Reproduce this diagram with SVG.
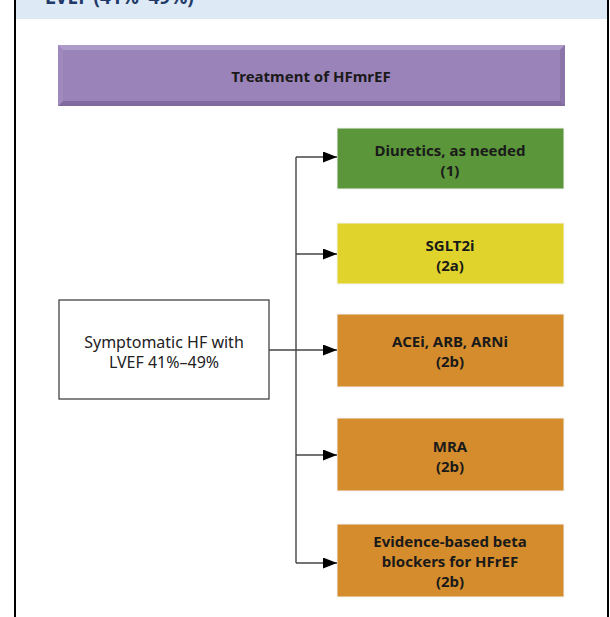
<svg xmlns="http://www.w3.org/2000/svg" width="610" height="617" viewBox="0 0 610 617">
<defs>
<style>
.lbl{font-family:"Noto Sans","Liberation Sans",sans-serif;font-size:15px;font-weight:bold;fill:#1a1a1a;text-anchor:middle}
.reg{font-family:"Noto Sans","Liberation Sans",sans-serif;font-size:16px;fill:#222;text-anchor:middle}
.conn{stroke:#444;stroke-width:1.4;fill:none}
.box{stroke:#f3f3f3;stroke-width:1}
</style>
<marker id="ah" markerWidth="14" markerHeight="11" refX="14" refY="5.5" orient="auto" markerUnits="userSpaceOnUse">
<path d="M0,0 L14,5.5 L0,11 Z" fill="#000"/>
</marker>
</defs>
<rect x="0" y="0" width="610" height="617" fill="#fff"/>
<g id="frame">
<rect x="15" y="-2" width="593" height="21" fill="#dde9f5"/>
<text x="45" y="4" style="font-family:'Noto Sans','Liberation Sans',sans-serif;font-size:19px;font-weight:bold;fill:#1f3a68">LVEF (41%–49%)</text>
<line x1="15" y1="0" x2="15" y2="617" stroke="#000" stroke-width="2"/>
<line x1="608" y1="0" x2="608" y2="617" stroke="#000" stroke-width="2"/>
</g>
<g id="header">
<rect x="58" y="45" width="507" height="61" fill="#9a83b8"/>
<polygon points="58,45 565,45 560,50 63,50" fill="#ad9bc9"/>
<polygon points="565,45 565,106 560,101 560,50" fill="#8a74a8"/>
<polygon points="58,106 565,106 560,101 63,101" fill="#7f6b9e"/>
<polygon points="58,45 63,50 63,101 58,106" fill="#a08abd"/>
<text class="lbl" x="311" y="81.5">Treatment of HFmrEF</text>
</g>
<g id="patient">
<rect x="59" y="300" width="210" height="99" fill="#fff" stroke="#444" stroke-width="1.3"/>
<text class="reg" x="164" y="347.5">Symptomatic HF with</text>
<text class="reg" x="164" y="367.5">LVEF 41%–49%</text>
</g>
<g id="diuretics">
<rect class="box" x="337" y="128" width="227" height="61" fill="#5b963b"/>
<text class="lbl" x="450" y="155.5">Diuretics, as needed</text>
<text class="lbl" x="450" y="175.5">(1)</text>
</g>
<g id="sglt2i">
<rect class="box" x="337" y="223" width="227" height="61" fill="#e0d42c"/>
<text class="lbl" x="450" y="250.5">SGLT2i</text>
<text class="lbl" x="450" y="270.5">(2a)</text>
</g>
<g id="acei">
<rect class="box" x="337" y="314" width="227" height="73" fill="#d58c2c"/>
<text class="lbl" x="450" y="347">ACEi, ARB, ARNi</text>
<text class="lbl" x="450" y="367">(2b)</text>
</g>
<g id="mra">
<rect class="box" x="337" y="418" width="227" height="73" fill="#d58c2c"/>
<text class="lbl" x="450" y="451.5">MRA</text>
<text class="lbl" x="450" y="471.5">(2b)</text>
</g>
<g id="betablockers">
<rect class="box" x="337" y="524" width="227" height="73" fill="#d58c2c"/>
<text class="lbl" x="450" y="546.5">Evidence-based beta</text>
<text class="lbl" x="450" y="566.5">blockers for HFrEF</text>
<text class="lbl" x="450" y="586.5">(2b)</text>
</g>
<g id="connectors">
<line class="conn" x1="296" y1="157" x2="296" y2="563"/>
<line class="conn" x1="269" y1="350" x2="337" y2="350" marker-end="url(#ah)"/>
<line class="conn" x1="296" y1="157" x2="337" y2="157" marker-end="url(#ah)"/>
<line class="conn" x1="296" y1="254" x2="337" y2="254" marker-end="url(#ah)"/>
<line class="conn" x1="296" y1="455" x2="337" y2="455" marker-end="url(#ah)"/>
<line class="conn" x1="296" y1="563" x2="337" y2="563" marker-end="url(#ah)"/>
</g>
</svg>
